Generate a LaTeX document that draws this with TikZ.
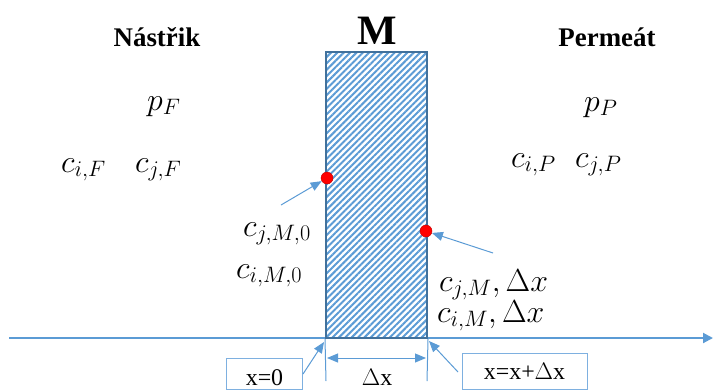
\RequirePackage{fix-cm}
\documentclass[tikz,border=0pt]{standalone}
\usepackage{fontspec}
\setmainfont{Liberation Serif}
\usetikzlibrary{arrows.meta,patterns.meta}
\definecolor{axisblue}{HTML}{5B9BD5}
\definecolor{edgeblue}{HTML}{41719C}
\definecolor{boxblue}{HTML}{7EB0E0}
\begin{document}
\begin{tikzpicture}[x=1bp,y=-1bp,
  mathlbl/.style={inner sep=0pt,anchor=base west,font=\fontsize{32}{36}\selectfont},
  headlbl/.style={inner sep=0pt,font=\fontsize{27}{31}\selectfont\bfseries},
  boxlbl/.style={draw=boxblue,line width=0.9bp,inner sep=0pt,font=\fontsize{24}{28}\selectfont},
  arr/.style={draw=axisblue,line width=1bp,-{Triangle[length=11bp,width=9bp]}},
  dim/.style={draw=axisblue,line width=1bp,{Triangle[length=11bp,width=9bp]}-{Triangle[length=11bp,width=9bp]}},
  tickline/.style={draw=axisblue,line width=1bp},
  dot/.style={circle,fill=red,draw=red!75!black,line width=0.4bp,minimum size=12bp,inner sep=0pt}]
\clip (0,0) rectangle (713,390);
\useasboundingbox (0,0) rectangle (713,390);
% axis
\coordinate (axL) at (9,338);
\coordinate (axR) at (713,338);
\draw[draw=axisblue,line width=2bp,-{Triangle[length=10bp,width=10bp]}] (axL) -- (axR);
% membrane
\node[draw=edgeblue,line width=1.3bp,minimum width=101bp,minimum height=286bp,inner sep=0pt,
  pattern={Lines[angle=45,distance=4.5bp,line width=2bp]},pattern color=axisblue] (mem) at (376.5,195) {};
\node[headlbl,font=\fontsize{42}{46}\selectfont\bfseries] (M) at (377,31) {M};
% headings
\node[headlbl] (feed) at (157,37) {Nástřik};
\node[headlbl] (perm) at (607,37) {Permeát};
% feed side
\node[mathlbl] (pF) at (147,110) {$p_F$};
\node[mathlbl] (ciF) at (61,172) {$c_{i,F}$};
\node[mathlbl] (cjF) at (135,172) {$c_{j,F}$};
% permeate side
\node[mathlbl] (pP) at (584,111) {$p_P$};
\node[mathlbl] (ciP) at (511,167) {$c_{i,P}$};
\node[mathlbl] (cjP) at (575,167) {$c_{j,P}$};
% membrane concentrations
\node[mathlbl] (cjM0) at (243,236) {$c_{j,M,0}$};
\node[mathlbl] (ciM0) at (236,278) {$c_{i,M,0}$};
\node[mathlbl] (cjMd) at (439,291) {$c_{j,M},\Delta x$};
\node[mathlbl] (ciMd) at (437,322) {$c_{i,M},\Delta x$};
% dots
\node[dot] (d1) at (327,178) {};
\node[dot] (d2) at (426,231) {};
\coordinate (a1s) at (281,205);
\coordinate (a2s) at (493,253);
\draw[arr] (a1s) -- (d1);
\draw[arr] (a2s) -- (d2);
% dimension
\coordinate (t0) at (326,381);
\coordinate (t1) at (427,381);
\draw[tickline] (mem.south west) -- (t0);
\draw[tickline] (mem.south east) -- (t1);
\coordinate (da) at (327,358);
\coordinate (db) at (426,358);
\draw[dim] (da) -- (db);
\node[inner sep=0pt,font=\fontsize{24}{28}\selectfont] (dx) at (377,377) {$\Delta$x};
% boxes
\node[boxlbl,minimum width=76bp,minimum height=31bp,text height=24bp,text depth=0pt] (bx0) at (264.5,373.5) {x=0};
\node[boxlbl,minimum width=125bp,minimum height=36bp] (bx1) at (524.5,371) {x=x+$\Delta$x};
\coordinate (p0s) at (303,374);
\coordinate (p0e) at (324,342);
\coordinate (p1s) at (458,372);
\coordinate (p1e) at (429,341);
\draw[arr] (p0s) -- (p0e);
\draw[arr] (p1s) -- (p1e);
\end{tikzpicture}
\end{document}
